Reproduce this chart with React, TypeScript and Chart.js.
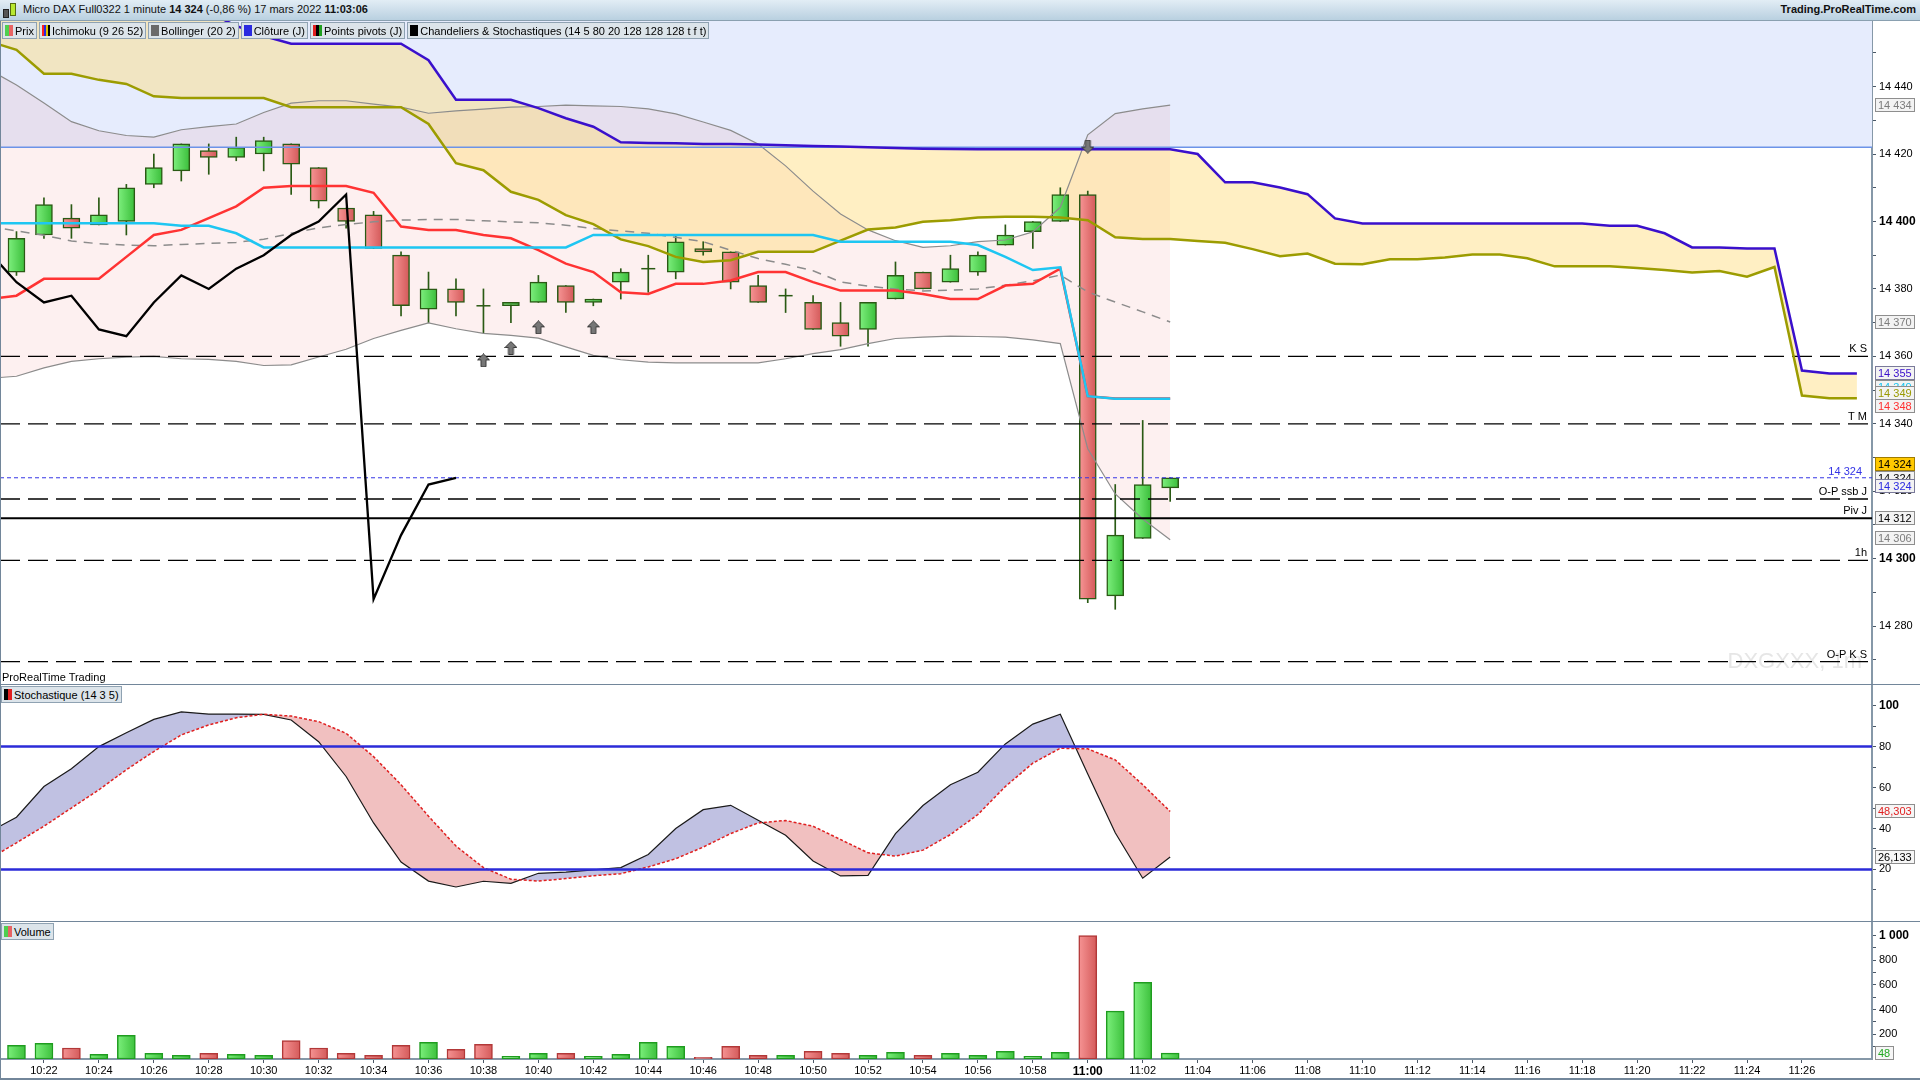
import React, { useEffect, useRef } from "react";
import { Chart, registerables } from "chart.js";

Chart.register(...registerables);

const FONT = '"Liberation Sans", Arial, Helvetica, sans-serif';

// ---------------- DATA ----------------
const candleTimes = ["10:21","10:22","10:23","10:24","10:25","10:26","10:27","10:28","10:29","10:30","10:31","10:32","10:33","10:34","10:35","10:36","10:37","10:38","10:39","10:40","10:41","10:42","10:43","10:44","10:45","10:46","10:47","10:48","10:49","10:50","10:51","10:52","10:53","10:54","10:55","10:56","10:57","10:58","10:59","11:00","11:01","11:02","11:03"];
const candleOpen = [14385,14396,14401,14399,14400,14411,14415,14421,14419,14420,14423,14416,14404,14402,14390,14374,14380,14375,14375,14376,14381,14376,14382,14386,14385,14392,14391,14381,14378,14376,14370,14368,14377,14385,14382,14385,14393,14397,14400,14408,14289,14306,14321];
const candleHigh = [14397,14407,14405,14407,14411,14420,14423,14423,14425,14425,14423,14416,14404,14403,14391,14385,14383,14380,14376,14384,14381,14377,14386,14390,14396,14394,14391,14384,14380,14378,14376,14376,14388,14385,14390,14391,14399,14400,14410,14409,14322,14341,14324];
const candleLow = [14384,14395,14395,14399,14396,14410,14412,14414,14418,14415,14408,14404,14398,14392,14372,14370,14372,14367,14370,14376,14373,14375,14377,14379,14383,14390,14380,14376,14373,14368,14363,14363,14377,14380,14382,14384,14393,14392,14400,14287,14285,14306,14317];
const candleClose = [14395,14405,14398,14402,14410,14416,14423,14419,14422,14424,14417,14406,14400,14392,14375,14380,14376,14375,14376,14382,14376,14377,14385,14386,14394,14391,14382,14376,14378,14368,14366,14376,14384,14380,14386,14390,14396,14400,14408,14288,14307,14322,14324];
const volume = [110,126,89,38,191,46,30,46,38,30,150,89,46,30,110,134,78,118,21,46,46,21,38,134,102,13,102,30,30,62,46,30,54,30,46,30,62,21,54,1000,387,621,48];
const volumeDir = ["u","u","d","u","u","u","u","d","u","u","d","d","d","d","d","u","d","d","u","u","d","u","u","u","u","d","d","d","u","d","d","u","u","d","u","u","u","u","u","d","u","u","u"];

// indicators, one value per minute from 10:20
const indicatorStart = "10:20";
const tenkan = [14377,14378,14383,14383,14383,14389.5,14396,14397.5,14401,14404.5,14410,14410.5,14410.5,14410.5,14408.5,14398.5,14397.5,14397.5,14396,14395,14391.5,14387.5,14385,14379,14378.5,14381.5,14381.5,14382.5,14385,14385,14382,14379.5,14379.5,14379.5,14378.5,14377,14377,14381,14381.5,14386,14348.2,14347.5,14347.5,14347.5];
const kijun = [14399.5,14399.5,14399.5,14399.5,14399.5,14399.5,14399.5,14398.7,14398.7,14396.5,14392.3,14392.3,14392.3,14392.3,14392.3,14392.3,14392.3,14392.3,14392.3,14392.3,14392.3,14392.3,14396,14396,14396,14396,14396,14396,14396,14396,14396,14394,14394,14394,14394,14394,14393,14389.5,14385.6,14386.4,14348.2,14347.4,14347.4,14347.4];
const bbUpper = [14445,14440.5,14435.1,14429.6,14426.9,14425.5,14425,14427.2,14428.1,14428.9,14432.3,14435.1,14435.8,14435.8,14434.8,14433.9,14432.1,14432.8,14433.3,14433.9,14434.1,14434.5,14434.3,14434.1,14433.4,14431.9,14429.5,14427,14423,14416.5,14409,14402.2,14397.5,14394.3,14392.3,14392.8,14394,14394.5,14396.9,14404.2,14425.7,14432,14433.4,14434.5];
const bbMiddle = [14398.5,14397.2,14395.9,14394.2,14393.4,14393,14392.8,14393.2,14393.5,14393.8,14394.7,14396.5,14398.1,14399.1,14399.9,14400.4,14400.6,14400.6,14400.2,14399.9,14399.6,14398.9,14397.9,14397.2,14396.5,14395.3,14394,14391.5,14389,14387.3,14385.4,14382.1,14380.8,14380,14379.4,14379.6,14380,14381.1,14382.4,14384.1,14379.1,14376.1,14373.2,14370.2];
const bbLower = [14353.5,14354.1,14356.6,14358.5,14359.3,14359.8,14360,14359.3,14359.1,14358.5,14357.3,14357.5,14359.8,14362.1,14365.3,14367.7,14369.9,14368.2,14366.8,14366.2,14365.4,14362.8,14360.3,14359,14358.3,14358.1,14358.1,14358.1,14358.1,14359.3,14360.8,14362,14363.8,14365.3,14365.7,14366,14365.9,14365.7,14364.9,14363.8,14332.6,14319.2,14311.8,14305.6];
const chikou = [14391,14382,14376,14378,14368,14366,14376,14384,14380,14386,14390,14396,14400,14408,14288,14307,14322,14324];

// Ichimoku cloud (projected), one value per minute from 10:20 to 11:28
const spanPurple = [14470,14470,14468,14466,14465,14465,14465,14465,14462,14458,14455,14452.7,14452.7,14452.7,14452.7,14452.7,14447.8,14436.1,14436.1,14436.1,14433.6,14430.6,14428.1,14423.5,14423.3,14423.2,14423,14423,14422.8,14422.6,14422.4,14422.2,14422,14421.8,14421.6,14421.5,14421.4,14421.4,14421.4,14421.4,14421.4,14421.4,14421.4,14421.4,14420,14411.6,14411.6,14410.1,14408.1,14400.9,14399.4,14399.4,14399.4,14399.4,14399.4,14399.4,14399.4,14399.4,14399.4,14398.7,14398.7,14396.5,14392.3,14392.3,14392,14392,14355.8,14354.9,14354.9];
const spanOlive = [14453.4,14450.9,14443.8,14443.8,14442,14440.8,14437.1,14436.6,14436.6,14436.6,14436.6,14433.9,14433.9,14433.9,14433.9,14433.9,14428.9,14417.3,14415.2,14408.8,14406.4,14401.9,14399.2,14394.7,14392.7,14389.5,14388,14388.5,14391,14391,14391,14394.3,14397.6,14398.2,14399.9,14400.4,14401.2,14401.4,14401.4,14401.2,14400.4,14395.3,14394.8,14394.8,14394.2,14393.7,14391.8,14389.7,14390.5,14387.5,14387.3,14388.8,14388.8,14389.3,14390.2,14390.2,14389.1,14386.7,14386.7,14386.7,14386.2,14385.6,14384.9,14385.3,14383.6,14386.5,14348.4,14347.6,14347.6];

const stochK = [38.2,45.5,60.5,69.2,80,86.8,93.3,97,95.9,95.9,95.7,93,82.4,65.4,42.7,23.6,14.3,11.4,14.2,13.2,18.1,18.7,19.8,20.9,27.3,40,49.2,51.3,44,36.7,24.1,16.8,17.1,37.5,51.2,61.4,67.5,81.3,91,95.8,66.6,37.9,15.7,26.1];
const stochD = [25,33,41.1,50,58.9,68.7,77.6,85.7,90.6,94.1,95.8,94.9,92.2,86.5,75.1,61.4,46,31.4,20.9,15.2,14.3,15.5,16.9,17.9,21.2,25.2,30.9,37.5,42.7,43.9,41.1,34.6,28.1,26.5,29.4,37,46.8,60.5,71.9,79.2,78.9,73.5,61.4,48.3];
const stochLevels = [80, 20];

const pivotLabels = ["K S", "T M", "O-P ssb J", "Piv J", "1h", "O-P K S"];
const pivotValues = [14360, 14340, 14317.7, 14312, 14299.5, 14269.5];
const pivotSolid = [false, false, false, true, false, false];
const dailyClose = 14324;
const dailyCloseLabel = "14 324";
const zoneLevel = 14422;

const upArrowTimes = ["10:38", "10:39", "10:40", "10:42"];
const upArrowValues = [14358.8, 14362.5, 14368.6, 14368.6];
const downArrowTimes = ["11:00"];
const downArrowValues = [14422.2];

const priceTickValues = [14270,14280,14290,14300,14310,14320,14330,14340,14350,14360,14370,14380,14390,14400,14410,14420,14430,14440,14450];
const stochTickValues = [10,20,30,40,50,60,70,80,90,100];
const volumeTickValues = [100,200,300,400,500,600,700,800,900,1000];
const xTickLabels = ["10:22","10:24","10:26","10:28","10:30","10:32","10:34","10:36","10:38","10:40","10:42","10:44","10:46","10:48","10:50","10:52","10:54","10:56","10:58","11:00","11:02","11:04","11:06","11:08","11:10","11:12","11:14","11:16","11:18","11:20","11:22","11:24","11:26"];

const priceTags = [
  { value: 14434.5, text: "14 434", color: "#7c7c7c", bg: "#f3f3f3", border: "#8e8e8e", dy: 0 },
  { value: 14370.2, text: "14 370", color: "#7c7c7c", bg: "#f3f3f3", border: "#8e8e8e", dy: 0 },
  { value: 14355, text: "14 355", color: "#3a10cc", bg: "#f3f3f3", border: "#7a7a9a", dy: 0 },
  { value: 14349, text: "14 349", color: "#18c4f0", bg: "#f3f3f3", border: "#8e8e8e", dy: -6 },
  { value: 14349, text: "14 349", color: "#9a9a00", bg: "#f3f3f3", border: "#8e8e8e", dy: 0 },
  { value: 14348, text: "14 348", color: "#ff3030", bg: "#f3f3f3", border: "#8e8e8e", dy: 9 },
  { value: 14324, text: "14 324", color: "#000000", bg: "#f3f3f3", border: "#8e8e8e", dy: 0 },
  { value: 14324, text: "14 324", color: "#000000", bg: "#ffc800", border: "#a07c00", dy: -14 },
  { value: 14324, text: "14 324", color: "#2a2ae0", bg: "#f3f3f3", border: "#7a7a9a", dy: 8 },
  { value: 14312, text: "14 312", color: "#000000", bg: "#f3f3f3", border: "#8e8e8e", dy: 0 },
  { value: 14306, text: "14 306", color: "#7c7c7c", bg: "#f3f3f3", border: "#8e8e8e", dy: 0 },
];
const stochTags = [
  { value: 48.303, text: "48,303", color: "#e02020", bg: "#f6f6f6", border: "#8e8e8e", dy: 0 },
  { value: 26.133, text: "26,133", color: "#000000", bg: "#f6f6f6", border: "#8e8e8e", dy: 0 },
];
const volumeTags = [{ value: 48, text: "48", color: "#22a822", bg: "#f6f6f6", border: "#8e8e8e", dy: 0 }];

const legendItems = [
  { text: "Prix", swatch: ["#4fcf4f", "#e86464"] },
  { text: "Ichimoku (9 26 52)", swatch: ["#ff2020", "#2a2ae0", "#e0c000", "#000000"] },
  { text: "Bollinger (20 2)", swatch: ["#6a6a6a", "#6a6a6a"] },
  { text: "Clôture (J)", swatch: ["#2a2ae0", "#2a2ae0"] },
  { text: "Points pivots (J)", swatch: ["#e02020", "#000000", "#20a020"] },
  { text: "Chandeliers & Stochastiques (14 5 80 20 128 128 128 t f t)", swatch: ["#000000", "#000000"] },
];

// ---------------- helpers ----------------
const X_MIN = 20.4;
const X_MAX = 88.55;
const toMin = (t: string) => {
  const [h, m] = t.split(":").map(Number);
  return h * 60 + m - 600;
};
const pts = (start: string, vals: number[]) => vals.map((v, i) => ({ x: toMin(start) + i, y: v }));
const fmtThousands = (v: number) => {
  const s = Math.round(v).toString();
  return s.length > 3 ? s.slice(0, s.length - 3) + " " + s.slice(-3) : s;
};
const hLine = (v: number) => [{ x: X_MIN, y: v }, { x: X_MAX, y: v }];

function gradientAt(chart: any, x: number, c1: string, c2: string, half: number) {
  const xs = chart.scales && chart.scales.x;
  if (!xs) return c1;
  const px = xs.getPixelForValue(x);
  if (!isFinite(px)) return c1;
  const g = chart.ctx.createLinearGradient(px - half, 0, px + half, 0);
  g.addColorStop(0, c1);
  g.addColorStop(1, c2);
  return g;
}

function makeArrow(up: boolean) {
  const c = document.createElement("canvas");
  c.width = 13;
  c.height = 14;
  const g = c.getContext("2d")!;
  g.beginPath();
  if (up) {
    g.moveTo(6.5, 0.5); g.lineTo(12.5, 6.5); g.lineTo(9, 6.5); g.lineTo(9, 13.5);
    g.lineTo(4, 13.5); g.lineTo(4, 6.5); g.lineTo(0.5, 6.5);
  } else {
    g.moveTo(6.5, 13.5); g.lineTo(12.5, 7.5); g.lineTo(9, 7.5); g.lineTo(9, 0.5);
    g.lineTo(4, 0.5); g.lineTo(4, 7.5); g.lineTo(0.5, 7.5);
  }
  g.closePath();
  g.fillStyle = "#777777";
  g.fill();
  g.strokeStyle = "#3a3a3a";
  g.lineWidth = 1;
  g.stroke();
  return c;
}

function rightAxis(min: number, max: number, tickVals: number[], labeled: (v: number) => boolean, bold: (v: number) => boolean) {
  return {
    type: "linear",
    position: "right",
    min,
    max,
    afterFit: (s: any) => { s.width = 48; s.paddingTop = 0; s.paddingBottom = 0; },
    afterBuildTicks: (s: any) => { s.ticks = tickVals.map((v) => ({ value: v })); },
    ticks: {
      autoSkip: false,
      padding: 3,
      color: "#000",
      callback: (v: number) => (labeled(v) ? fmtThousands(v) : ""),
      font: (c: any) =>
        c.tick && bold(c.tick.value) ? { family: FONT, size: 12, weight: "bold" } : { family: FONT, size: 11 },
    },
    grid: { drawOnChartArea: false, drawTicks: true, tickLength: 4, color: "#4a5867", lineWidth: 1 },
    border: { display: true, color: "#8698a8", width: 2 },
  };
}

function tagPlugin(id: string, tags: any[]) {
  return {
    id,
    afterDraw(chart: any) {
      const { ctx, chartArea } = chart;
      const ys = chart.scales.y;
      ctx.save();
      ctx.font = `11px ${FONT}`;
      ctx.textBaseline = "middle";
      ctx.textAlign = "left";
      for (const t of tags) {
        const y = Math.round(ys.getPixelForValue(t.value) + t.dy);
        const w = Math.ceil(ctx.measureText(t.text).width) + 6;
        const x = chartArea.right + 3;
        ctx.fillStyle = t.bg;
        ctx.fillRect(x, y - 7, w, 14);
        ctx.strokeStyle = t.border;
        ctx.lineWidth = 1;
        ctx.strokeRect(x + 0.5, y - 6.5, w - 1, 13);
        ctx.fillStyle = t.color;
        ctx.fillText(t.text, x + 3, y + 0.5);
      }
      ctx.restore();
    },
  };
}

const baseOptions = {
  responsive: false,
  maintainAspectRatio: false,
  animation: false,
  events: [],
  layout: { padding: 0, autoPadding: false },
  plugins: { legend: { display: false }, tooltip: { enabled: false } },
};

const lineDs = (data: any[], color: string, width: number, order: number, extra: any = {}) => ({
  type: "line",
  data,
  borderColor: color,
  borderWidth: width,
  pointRadius: 0,
  pointHoverRadius: 0,
  tension: 0,
  fill: false,
  order,
  ...extra,
});

// ---------------- main chart ----------------
function mainConfig(): any {
  const ds: any[] = [];
  const add = (d: any) => { ds.push(d); return ds.length - 1; };

  // blue zone above level
  add(lineDs(hLine(zoneLevel), "rgba(0,0,0,0)", 0, 100, { fill: "end", backgroundColor: "#e6ecfd" }));
  // bollinger fill
  const iLow = add(lineDs(pts(indicatorStart, bbLower), "rgba(0,0,0,0)", 0, 96));
  add(lineDs(pts(indicatorStart, bbUpper), "rgba(0,0,0,0)", 0, 95, { fill: { target: iLow }, backgroundColor: "rgba(235,115,115,0.11)" }));
  // cloud fill
  const iOl = add(lineDs(pts(indicatorStart, spanOlive), "rgba(0,0,0,0)", 0, 91));
  add(lineDs(pts(indicatorStart, spanPurple), "rgba(0,0,0,0)", 0, 90, { fill: { target: iOl }, backgroundColor: "rgba(255,220,125,0.46)" }));

  // candles
  const wicks = candleTimes.map((t, i) => ({ x: toMin(t), y: [candleLow[i], candleHigh[i]] }));
  const bodies = candleTimes
    .map((t, i) => ({ x: toMin(t), y: [candleOpen[i], candleClose[i]] }))
    .filter((d) => d.y[0] !== d.y[1]);
  const dojis = candleTimes
    .map((t, i) => ({ x: toMin(t), y: candleOpen[i], c: candleClose[i] }))
    .filter((d) => d.y === d.c);
  add({ type: "bar", data: wicks, backgroundColor: "#2a5a14", borderWidth: 0, barThickness: 1, grouped: false, order: 70 });
  add({
    type: "bar",
    data: bodies,
    grouped: false,
    barThickness: 17,
    borderWidth: 1.5,
    borderSkipped: false,
    borderColor: "#2a5a14",
    backgroundColor: (c: any) => {
      const r = c.raw;
      if (!r || !r.y) return "#5bd45b";
      const up = r.y[1] >= r.y[0];
      return gradientAt(c.chart, r.x, up ? "#7cee7c" : "#f69494", up ? "#3cbf3c" : "#d45a5a", 8);
    },
    order: 69,
  });
  add({ type: "line", data: dojis, showLine: false, pointStyle: "line", pointRadius: 7, borderColor: "#2a5a14", borderWidth: 1.5, order: 68 });

  // bands
  add(lineDs(pts(indicatorStart, bbUpper), "#8c8c8c", 1.2, 60));
  add(lineDs(pts(indicatorStart, bbLower), "#8c8c8c", 1.2, 60));
  add(lineDs(pts(indicatorStart, bbMiddle), "#8c8c8c", 1.5, 60, { borderDash: [9, 7] }));
  add(lineDs(hLine(zoneLevel), "#6c93e8", 1.5, 59));

  // pivots
  pivotValues.forEach((v, i) => {
    add(lineDs(hLine(v), "#000000", pivotSolid[i] ? 2 : 1.3, 55, pivotSolid[i] ? {} : { borderDash: [20, 8] }));
  });
  add(lineDs(hLine(dailyClose), "#3434e6", 1, 54, { borderDash: [4, 3] }));

  // cloud lines
  add(lineDs(pts(indicatorStart, spanOlive), "#9c9c00", 2.5, 50));
  add(lineDs(pts(indicatorStart, spanPurple), "#3a10cc", 2.5, 49));
  // ichimoku lines
  add(lineDs(pts(indicatorStart, tenkan), "#ff3333", 2.5, 45));
  add(lineDs(pts(indicatorStart, kijun), "#1ec6f2", 2.5, 44));
  add(lineDs(pts(indicatorStart, chikou), "#000000", 2.3, 43));

  // arrows
  const upImg = makeArrow(true);
  const downImg = makeArrow(false);
  add({ type: "line", showLine: false, data: upArrowTimes.map((t, i) => ({ x: toMin(t), y: upArrowValues[i] })), pointStyle: upImg, pointRadius: 7, order: 10 });
  add({ type: "line", showLine: false, data: downArrowTimes.map((t, i) => ({ x: toMin(t), y: downArrowValues[i] })), pointStyle: downImg, pointRadius: 7, order: 9 });

  const labelsPlugin = {
    id: "mainLabels",
    beforeDatasetsDraw(chart: any) {
      const { ctx, chartArea } = chart;
      ctx.save();
      ctx.font = `22px ${FONT}`;
      ctx.fillStyle = "#e6e6e6";
      ctx.textAlign = "right";
      ctx.textBaseline = "alphabetic";
      ctx.fillText("DXGXXX, 1m", chartArea.right - 10, chartArea.bottom - 17);
      ctx.restore();
    },
    afterDatasetsDraw(chart: any) {
      const { ctx, chartArea } = chart;
      const ys = chart.scales.y;
      ctx.save();
      ctx.font = `11px ${FONT}`;
      ctx.textAlign = "right";
      ctx.textBaseline = "alphabetic";
      ctx.fillStyle = "#000";
      pivotLabels.forEach((lab, i) => {
        ctx.fillText(lab, chartArea.right - 5, ys.getPixelForValue(pivotValues[i]) - 4);
      });
      ctx.fillStyle = "#3434e6";
      ctx.fillText(dailyCloseLabel, chartArea.right - 10, ys.getPixelForValue(dailyClose) - 3);
      ctx.restore();
    },
  };

  return {
    type: "bar",
    data: { datasets: ds },
    options: {
      ...baseOptions,
      scales: {
        x: { type: "linear", min: X_MIN, max: X_MAX, display: false, offset: false, grid: { offset: false } },
        y: rightAxis(14262.55, 14459.45, priceTickValues, (v) => v % 20 === 0, (v) => v % 100 === 0),
      },
    },
    plugins: [labelsPlugin, tagPlugin("priceTags", priceTags)],
  };
}

// ---------------- stochastic ----------------
function stochConfig(): any {
  const ds: any[] = [];
  const add = (d: any) => { ds.push(d); return ds.length - 1; };
  const iD = add(lineDs(pts(indicatorStart, stochD), "#e02020", 1.5, 10, { borderDash: [3, 2] }));
  add(lineDs(pts(indicatorStart, stochK), "#1a1a1a", 1.2, 20, { fill: { target: iD, above: "#c0c1e2", below: "#f1c0c0" } }));
  stochLevels.forEach((v) => add(lineDs(hLine(v), "#2b2bd8", 2.5, 5)));
  return {
    type: "line",
    data: { datasets: ds },
    options: {
      ...baseOptions,
      scales: {
        x: { type: "linear", min: X_MIN, max: X_MAX, display: false, offset: false },
        y: rightAxis(-5.7, 110.1, stochTickValues, (v) => v % 20 === 0, (v) => v === 100),
      },
    },
    plugins: [tagPlugin("stochTags", stochTags)],
  };
}

// ---------------- volume ----------------
function volConfig(): any {
  const data = candleTimes.map((t, i) => ({ x: toMin(t), y: volume[i], d: volumeDir[i] }));
  return {
    type: "bar",
    data: {
      datasets: [
        {
          type: "bar",
          data,
          barThickness: 18,
          borderWidth: 1.5,
          borderSkipped: false,
          borderColor: (c: any) => (c.raw && c.raw.d === "d" ? "#b23838" : "#1f9c1f"),
          backgroundColor: (c: any) => {
            const r = c.raw;
            if (!r) return "#5bd45b";
            const up = r.d !== "d";
            return gradientAt(c.chart, r.x, up ? "#7cf07c" : "#f69494", up ? "#3cc03c" : "#d45a5a", 9);
          },
        },
      ],
    },
    options: {
      ...baseOptions,
      scales: {
        x: {
          type: "linear",
          min: X_MIN,
          max: X_MAX,
          offset: false,
          afterBuildTicks: (s: any) => { s.ticks = xTickLabels.map((t) => ({ value: toMin(t) })); },
          afterFit: (s: any) => { s.height = 21; s.paddingLeft = 0; s.paddingRight = 0; },
          ticks: {
            autoSkip: false,
            maxRotation: 0,
            minRotation: 0,
            padding: 1,
            color: "#000",
            callback: (_v: number, i: number) => xTickLabels[i],
            font: (c: any) =>
              xTickLabels[c.index] === "11:00" ? { family: FONT, size: 12, weight: "bold" } : { family: FONT, size: 11 },
          },
          grid: { drawOnChartArea: false, drawTicks: true, tickLength: 4, color: "#4a5867", offset: false },
          border: { display: true, color: "#8698a8", width: 2 },
        },
        y: rightAxis(0, 1109, volumeTickValues, (v) => v % 200 === 0, (v) => v === 1000),
      },
    },
    plugins: [tagPlugin("volTags", volumeTags)],
  };
}

// ---------------- UI ----------------
const boxStyle: React.CSSProperties = {
  display: "flex",
  alignItems: "center",
  height: 15,
  padding: "0 2px 0 2px",
  background: "#dce4ea",
  border: "1px solid #8fa2b2",
  font: `11px ${FONT}`,
  color: "#000",
  whiteSpace: "nowrap",
  boxSizing: "content-box",
};

function Swatch({ colors }: { colors: string[] }) {
  return (
    <span style={{ display: "inline-flex", marginRight: 2, height: 11 }}>
      {colors.map((c, i) => (
        <span key={i} style={{ width: Math.max(2, Math.round(8 / colors.length)), height: 11, background: c }} />
      ))}
    </span>
  );
}

export default function App() {
  const mainRef = useRef<HTMLCanvasElement>(null);
  const stochRef = useRef<HTMLCanvasElement>(null);
  const volRef = useRef<HTMLCanvasElement>(null);

  useEffect(() => {
    const charts = [
      new Chart(mainRef.current as HTMLCanvasElement, mainConfig()),
      new Chart(stochRef.current as HTMLCanvasElement, stochConfig()),
      new Chart(volRef.current as HTMLCanvasElement, volConfig()),
    ];
    return () => charts.forEach((c) => c.destroy());
  }, []);

  const abs = (l: number, t: number, w: number, h: number, extra: React.CSSProperties = {}): React.CSSProperties => ({
    position: "absolute",
    left: l,
    top: t,
    width: w,
    height: h,
    ...extra,
  });

  return (
    <div style={{ position: "fixed", left: 0, top: 0, width: 1920, height: 1080, background: "#fff", overflow: "hidden", fontFamily: FONT }}>
      {/* title bar */}
      <div
        style={abs(0, 0, 1920, 20, {
          background: "linear-gradient(#e2edf5, #b9d0e0)",
          borderBottom: "1px solid #8aa0b0",
          font: `11px ${FONT}`,
          color: "#111",
          display: "flex",
          alignItems: "center",
        })}
      >
        <span style={{ position: "absolute", left: 3, top: 9, width: 4, height: 7, background: "#555", border: "1px solid #222" }} />
        <span style={{ position: "absolute", left: 10, top: 3, width: 4, height: 11, background: "#b8e830", border: "1px solid #556b10" }} />
        <span style={{ position: "absolute", left: 23, top: 3 }}>
          Micro DAX Full0322 1 minute <b>14 324</b> (-0,86 %) 17 mars 2022 <b>11:03:06</b>
        </span>
        <span style={{ position: "absolute", right: 4, top: 3, fontWeight: "bold" }}>Trading.ProRealTime.com</span>
      </div>

      {/* main chart */}
      <canvas ref={mainRef} width={1920} height={664} style={abs(0, 21, 1920, 664)} />

      {/* legend row */}
      <div style={{ position: "absolute", left: 2, top: 22, display: "flex", gap: 2 }}>
        {legendItems.map((it) => (
          <div key={it.text} style={boxStyle}>
            <Swatch colors={it.swatch} />
            {it.text}
          </div>
        ))}
      </div>

      <div style={abs(2, 671, 200, 13, { font: `11px ${FONT}`, color: "#000" })}>ProRealTime Trading</div>

      {/* stochastic */}
      <canvas ref={stochRef} width={1920} height={237} style={abs(0, 685, 1920, 237)} />
      <div style={{ position: "absolute", left: 1, top: 686 }}>
        <div style={boxStyle}>
          <Swatch colors={["#000000", "#e02020"]} />
          Stochastique (14 3 5)
        </div>
      </div>

      {/* volume */}
      <canvas ref={volRef} width={1920} height={158} style={abs(0, 922, 1920, 158)} />
      <div style={{ position: "absolute", left: 1, top: 923 }}>
        <div style={boxStyle}>
          <Swatch colors={["#4fcf4f", "#e86464"]} />
          Volume
        </div>
      </div>

      {/* separators / frame */}
      <div style={abs(0, 684, 1920, 1, { background: "#72869a" })} />
      <div style={abs(0, 921, 1920, 1, { background: "#72869a" })} />
      <div style={abs(0, 1078, 1920, 2, { background: "#72869a" })} />
      <div style={abs(0, 21, 1, 1059, { background: "#72869a" })} />
    </div>
  );
}
